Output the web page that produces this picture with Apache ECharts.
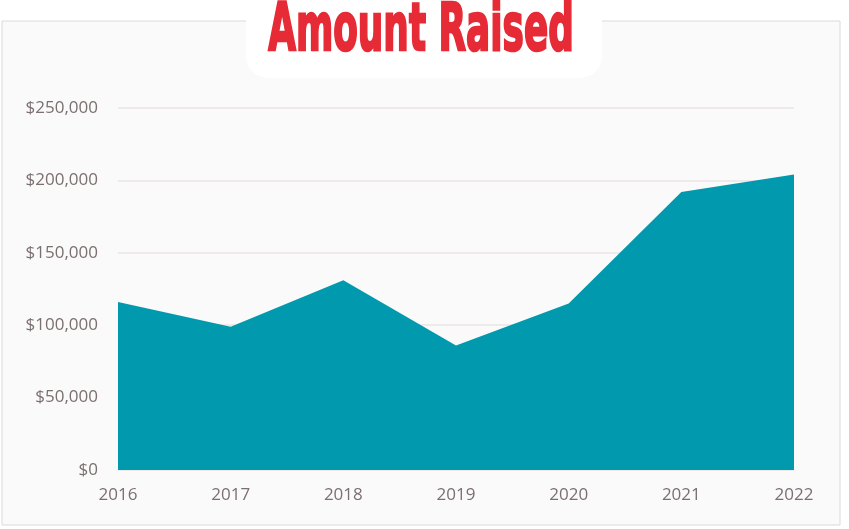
<!DOCTYPE html>
<html><head><meta charset="utf-8">
<script src="https://cdn.jsdelivr.net/npm/echarts@6/dist/echarts.min.js"></script>
<style>html,body{margin:0;padding:0;background:#fff}#c{width:849px;height:529px}</style>
</head><body><div id="c"></div>
<script>
var years = ['2016','2017','2018','2019','2020','2021','2022'];
var amountRaised = [116000, 99000, 131000, 86000, 115000, 192000, 204000];
var titleText = 'Amount Raised';

var chart = echarts.init(document.getElementById('c'), null, {renderer:'canvas'});
chart.setOption({
  backgroundColor: '#ffffff',
  animation: false,
  graphic: [
    {type:'rect', z:-10, shape:{x:2, y:21, width:838, height:504}, style:{fill:'#fafafb', stroke:'#ddd8d8', lineWidth:1}},
    {type:'rect', z:-5, shape:{x:246, y:0, width:356, height:78, r:[0,0,22,22]}, style:{fill:'#ffffff'}},
    {type:'text', z:10, x:421, y:33, scaleX:0.56, scaleY:1.04, style:{text:titleText, fill:'#e62b36', stroke:'#e62b36', lineWidth:2.5, font:'bold 64px "DejaVu Sans"', textAlign:'center', textVerticalAlign:'middle'}}
  ],
  grid: {left:118, right:55, top:108, bottom:59},
  xAxis: {
    type:'category', data: years, boundaryGap:false,
    axisLine:{show:false}, axisTick:{show:false},
    axisLabel:{color:'#7b6f6f', fontSize:17, fontFamily:'"Open Sans"', margin:17}
  },
  yAxis: {
    type:'value', min:0, max:250000, interval:50000,
    axisLine:{show:false}, axisTick:{show:false},
    splitLine:{lineStyle:{color:'#ebe3e3', width:1.5}},
    axisLabel:{color:'#7b6f6f', fontSize:17, fontFamily:'"Open Sans"', margin:20,
      formatter:function(v){return '$'+v.toLocaleString('en-US');}}
  },
  series: [{
    type:'line', data: amountRaised, symbol:'none',
    lineStyle:{width:0}, areaStyle:{color:'#0199ad', opacity:1}
  }]
});
</script></body></html>
